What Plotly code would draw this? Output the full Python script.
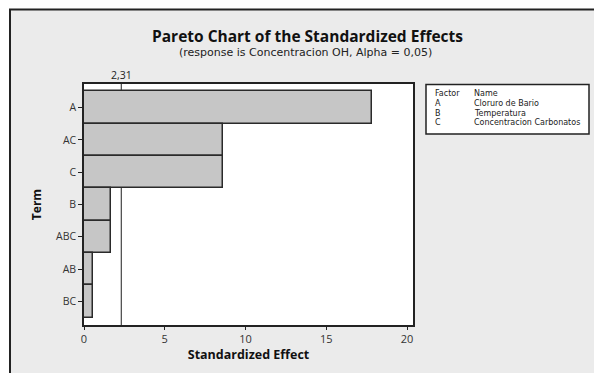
import plotly.graph_objects as go

# Pareto chart data (standardized effects, largest first)
terms = ["A", "AC", "C", "B", "ABC", "AB", "BC"]
effects = [17.85, 8.62, 8.62, 1.70, 1.70, 0.56, 0.56]
critical_value = 2.31
critical_label = "2,31"

x_ticks = [0, 5, 10, 15, 20]

factor_codes = ["A", "B", "C"]
factor_names = ["Cloruro de Bario", "Temperatura", "Concentracion Carbonatos"]

W, H = 594, 373
L, R, T, B = 84, 413, 84, 325  # plot area in pixels


def px(xp):
    return (xp - L) / (R - L)


def py(yp):
    return (B - yp) / (B - T)


fig = go.Figure()
fig.add_trace(go.Bar(
    x=effects, y=terms, orientation="h",
    marker=dict(color="#c6c6c6", line=dict(color="#2a2a2a", width=1.5)),
    hoverinfo="x+y",
))

shapes = [
    # outer frame
    dict(type="rect", xref="paper", yref="paper",
         x0=px(10), x1=px(620), y0=py(400), y1=py(9.5),
         fillcolor="#ebebeb", line=dict(color="#222", width=2), layer="below"),
    # white data region
    dict(type="rect", xref="paper", yref="paper", x0=0, x1=1, y0=0, y1=1,
         fillcolor="white", line=dict(width=0), layer="below"),
    # critical value line (behind the bars)
    dict(type="line", xref="x", yref="paper", x0=critical_value, x1=critical_value,
         y0=0, y1=1, line=dict(color="#444", width=1.2), layer="below"),
    # factor table box
    dict(type="rect", xref="paper", yref="paper",
         x0=px(426), x1=px(589), y0=py(134), y1=py(84.5),
         fillcolor="white", line=dict(color="#222", width=1.5)),
]

small = dict(size=8, color="#222", family="DejaVu Sans")
annotations = [
    dict(text="<b>Pareto Chart of the Standardized Effects</b>", xref="paper", yref="paper",
         x=px(307), y=py(36), showarrow=False, xanchor="center", yanchor="middle",
         font=dict(size=15.5, color="#111", family="Open Sans")),
    dict(text="(response is Concentracion OH, Alpha = 0,05)", xref="paper", yref="paper",
         x=px(305), y=py(52), showarrow=False, xanchor="center", yanchor="middle",
         font=dict(size=11, color="#222", family="DejaVu Sans")),
    dict(text=critical_label, xref="x", yref="paper", x=critical_value, y=py(75),
         showarrow=False, xanchor="center", yanchor="middle",
         font=dict(size=10.5, color="#222", family="Open Sans")),
    dict(text="Factor", xref="paper", yref="paper", x=px(433), y=py(93),
         showarrow=False, xanchor="left", yanchor="middle", font=small),
    dict(text="Name", xref="paper", yref="paper", x=px(472), y=py(93),
         showarrow=False, xanchor="left", yanchor="middle", font=small),
]
row_y = [103, 113, 122]
for code, name, yy in zip(factor_codes, factor_names, row_y):
    annotations.append(dict(text=code, xref="paper", yref="paper", x=px(433), y=py(yy),
                            showarrow=False, xanchor="left", yanchor="middle", font=small))
    annotations.append(dict(text=name, xref="paper", yref="paper", x=px(472), y=py(yy),
                            showarrow=False, xanchor="left", yanchor="middle", font=small))

fig.update_layout(
    width=W, height=H,
    margin=dict(l=L, r=W - R, t=T, b=H - B, pad=0),
    paper_bgcolor="white", plot_bgcolor="white",
    bargap=0, showlegend=False,
    shapes=shapes, annotations=annotations,
    font=dict(family="Open Sans", color="#222"),
    xaxis=dict(
        range=[0, 20.37], tickvals=x_ticks, ticks="outside", ticklen=3, tickwidth=1,
        tickcolor="#222", showgrid=False, zeroline=False,
        showline=True, linecolor="#222", linewidth=1.5, mirror=True,
        tickfont=dict(size=11, color="#333"),
        title=dict(text="<b>Standardized Effect</b>", font=dict(size=12.5, color="#111"), standoff=5),
    ),
    yaxis=dict(
        categoryorder="array", categoryarray=terms, range=[6.73, -0.73],
        ticks="outside", ticklen=4, tickwidth=1, tickcolor="#222",
        showgrid=False, zeroline=False,
        showline=True, linecolor="#222", linewidth=1.5, mirror=True,
        tickfont=dict(size=10.5, color="#333"),
        title=dict(text="<b>Term</b>", font=dict(size=12, color="#111"), standoff=12),
    ),
)

fig.write_html("out.html")
